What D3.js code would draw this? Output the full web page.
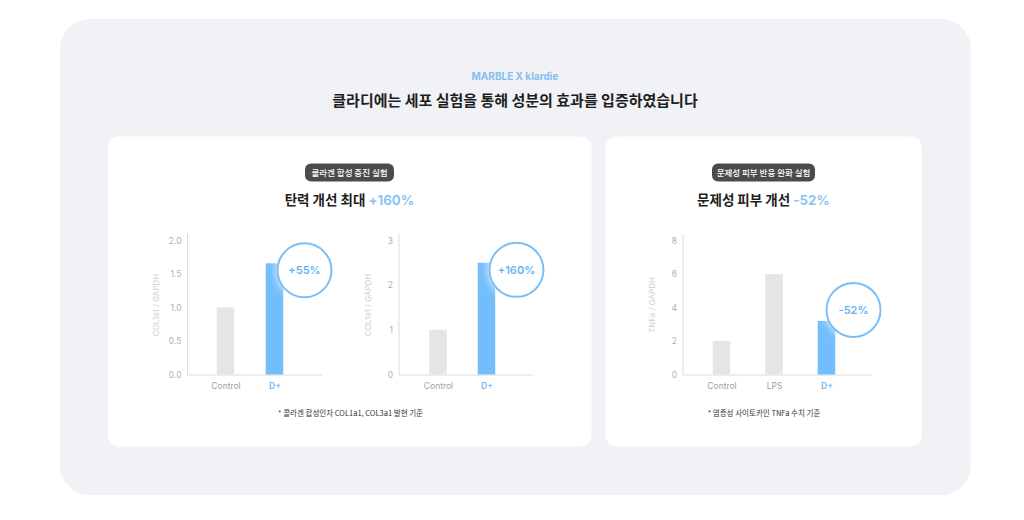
<!DOCTYPE html>
<html><head><meta charset="utf-8">
<script src="https://cdn.jsdelivr.net/npm/d3@7"></script>
<style>
html,body{margin:0;padding:0;background:#fff;}
svg{display:block;font-family:"Noto Sans CJK KR","Noto Sans",sans-serif;}
</style></head>
<body><svg id="c" width="1024" height="520"></svg>
<script>
// ---- data ----
const brand = "MARBLE X klardie";
const mainTitle = "클라디에는 세포 실험을 통해 성분의 효과를 입증하였습니다";
const leftTag = "콜라겐 합성 증진 실험";
const leftHead = "탄력 개선 최대 ";
const leftHeadValue = "+160%";
const rightTag = "문제성 피부 반응 완화 실험";
const rightHead = "문제성 피부 개선 ";
const rightHeadValue = "-52%";
const leftNote = "* 콜라겐 합성인자 COL1a1, COL3a1 발현 기준";
const rightNote = "* 염증성 사이토카인 TNFa 수치 기준";

const collagenCats = ["Control", "D+"];
const col1Values = [1.0, 1.66];
const col1Ticks = [0, 0.5, 1.0, 1.5, 2.0];
const col1Badge = "+55%";
const col3Values = [1.0, 2.5];
const col3Ticks = [0, 1, 2, 3];
const col3Badge = "+160%";
const tnfCats = ["Control", "LPS", "D+"];
const tnfValues = [2.0, 6.0, 3.2];
const tnfTicks = [0, 2, 4, 6, 8];
const tnfBadge = "-52%";
const yTitleCol = "COL1a1 / GAPDH";
const yTitleTnf = "TNFa / GAPDH";

// ---- drawing ----
const svg = d3.select("#c");
const defs = svg.append("defs");
const f = defs.append("filter").attr("id","glow").attr("x","-50%").attr("y","-50%").attr("width","200%").attr("height","200%");
f.append("feDropShadow").attr("dx",0).attr("dy",0).attr("stdDeviation",4).attr("flood-color","#ffffff").attr("flood-opacity",0.9);

svg.append("rect").attr("x",60).attr("y",19).attr("width",911).attr("height",476).attr("rx",30).attr("fill","#f1f2f6");
svg.append("rect").attr("x",108).attr("y",136.5).attr("width",483.5).attr("height",310).attr("rx",11).attr("fill","#fff");
svg.append("rect").attr("x",605.5).attr("y",136.5).attr("width",316.5).attr("height",310).attr("rx",11).attr("fill","#fff");

svg.append("text").attr("x",515).attr("y",79.5).attr("text-anchor","middle").attr("font-size",10).attr("font-weight",700)
  .attr("fill","#86bdec").attr("font-family","Inter,'Noto Sans',sans-serif").text(brand);
svg.append("text").attr("x",515).attr("y",105.5).attr("text-anchor","middle").attr("font-size",15).attr("font-weight",700)
  .attr("fill","#1e1e1e").text(mainTitle);

function tag(cx, label, w){
  svg.append("rect").attr("x",cx-w/2).attr("y",163.5).attr("width",w).attr("height",18).attr("rx",6).attr("fill","#4b4b4b");
  svg.append("text").attr("x",cx).attr("y",176).attr("text-anchor","middle").attr("font-size",8.5).attr("font-weight",500)
    .attr("fill","#fff").text(label);
}
tag(349.5, leftTag, 89);
tag(763.5, rightTag, 103);

function head(cx, t, v){
  const tx = svg.append("text").attr("x",cx).attr("y",204.5).attr("text-anchor","middle").attr("font-size",13.5).attr("font-weight",700).attr("fill","#1e1e1e");
  tx.append("tspan").text(t);
  tx.append("tspan").attr("fill","#7cc2f7").attr("font-family","Inter,'Noto Sans',sans-serif").attr("font-weight",600).text(v);
}
head(349.5, leftHead, leftHeadValue);
head(763.5, rightHead, rightHeadValue);

svg.append("text").attr("x",350.5).attr("y",416).attr("text-anchor","middle").attr("font-size",7.5).attr("fill","#333").text(leftNote);
svg.append("text").attr("x",764).attr("y",416).attr("text-anchor","middle").attr("font-size",7.5).attr("fill","#333").text(rightNote);

function chart(o){
  const y = d3.scaleLinear().domain([0, o.max]).range([374.5, 240.5]);
  const x = d3.scalePoint().domain(o.cats).range(o.xr);
  const g = svg.append("g");
  g.append("line").attr("x1",o.ax).attr("x2",o.ax).attr("y1",234).attr("y2",375).attr("stroke","#dcdcdc").attr("stroke-width",1);
  g.append("line").attr("x1",o.ax).attr("x2",o.ar).attr("y1",375).attr("y2",375).attr("stroke","#dcdcdc").attr("stroke-width",1);
  const ya = g.append("g").attr("transform",`translate(${o.ax},0)`)
    .call(d3.axisLeft(y).tickValues(o.ticks).tickSize(0).tickPadding(6).tickFormat(o.fmt));
  ya.select(".domain").remove();
  ya.selectAll("text").attr("fill","#b0b0b0").attr("font-size",8.5).attr("font-family","Inter,'Noto Sans',sans-serif");
  const xa = g.append("g").attr("transform",`translate(0,375)`)
    .call(d3.axisBottom(x).tickSize(0).tickPadding(8));
  xa.select(".domain").remove();
  xa.selectAll("text").attr("font-size",8.5).attr("font-family","Inter,'Noto Sans',sans-serif")
    .attr("fill", d => d==="D+" ? "#6db8f6" : "#a0a0a0").attr("font-weight", d => d==="D+" ? 600 : 400);
  const bw = 17.5;
  g.selectAll("rect.bar").data(o.cats.map((c,i)=>({c, v:o.vals[i]}))).enter().append("rect")
    .attr("x", d => x(d.c)-bw/2).attr("width", bw)
    .attr("y", d => y(d.v)).attr("height", d => y(0)-y(d.v))
    .attr("fill", d => d.c==="D+" ? "#72bdfb" : "#e5e5e5");
  const dv = o.vals[o.cats.indexOf("D+")];
  const cx = x("D+") + o.bdx, cy = y(dv) + o.bdy;
  g.append("circle").attr("cx",cx).attr("cy",cy).attr("r",27).attr("fill","#fff").attr("stroke","#78bff8").attr("stroke-width",2)
    .attr("filter","url(#glow)");
  g.append("text").attr("x",cx).attr("y",cy+4).attr("text-anchor","middle").attr("font-size",11).attr("font-weight",600)
    .attr("fill","#63b3f4").attr("font-family","Inter,'Noto Sans',sans-serif").text(o.badge);
  g.append("text").attr("transform",`translate(${o.tx},305) rotate(-90)`).attr("text-anchor","middle")
    .attr("font-size",8).attr("fill","#cfcfcf").attr("font-family","Inter,'Noto Sans',sans-serif").text(o.title);
}

chart({cats:collagenCats, vals:col1Values, ticks:col1Ticks, max:2, fmt:d3.format(".1f"),
  xr:[225.5,274.5], ax:187.5, ar:322, bdx:30, bdy:7, badge:col1Badge, title:yTitleCol, tx:159});
chart({cats:collagenCats, vals:col3Values, ticks:col3Ticks, max:3, fmt:d3.format("d"),
  xr:[438,486.5], ax:399, ar:533, bdx:30, bdy:7, badge:col3Badge, title:yTitleCol, tx:371});
chart({cats:tnfCats, vals:tnfValues, ticks:tnfTicks, max:8, fmt:d3.format("d"),
  xr:[721.5,826.5], ax:683, ar:872, bdx:27, bdy:-11, badge:tnfBadge, title:yTitleTnf, tx:655});
</script></body></html>
